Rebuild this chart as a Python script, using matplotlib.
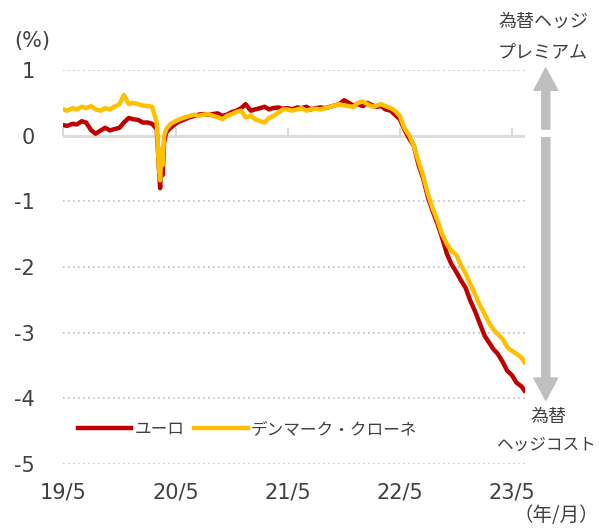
import matplotlib
matplotlib.use('Agg')
import matplotlib.pyplot as plt
import pandas as pd

# Latin text in a wide Verdana-like face, Japanese falls back to Noto CJK
plt.rcParams['font.family'] = ['DejaVu Sans', 'Noto Sans CJK JP']
JP = ['Noto Sans CJK JP', 'DejaVu Sans']

# semi-monthly dates, extra points around the March 2020 shock
dates = [
    '2019-05-01', '2019-05-15', '2019-06-01', '2019-06-15', '2019-07-01', '2019-07-15',
    '2019-08-01', '2019-08-15', '2019-09-01', '2019-09-15', '2019-10-01', '2019-10-15',
    '2019-11-01', '2019-11-15', '2019-12-01', '2019-12-15',
    '2020-01-01', '2020-01-15', '2020-02-01', '2020-02-15', '2020-03-01', '2020-03-08',
    '2020-03-12', '2020-03-16', '2020-03-20', '2020-03-25', '2020-04-01', '2020-04-15',
    '2020-05-01', '2020-05-15', '2020-06-01', '2020-06-15', '2020-07-01', '2020-07-15',
    '2020-08-01', '2020-08-15', '2020-09-01', '2020-09-15', '2020-10-01', '2020-10-15',
    '2020-11-01', '2020-11-15', '2020-12-01', '2020-12-15',
    '2021-01-01', '2021-01-15', '2021-02-01', '2021-02-15', '2021-03-01', '2021-03-15',
    '2021-04-01', '2021-04-15', '2021-05-01', '2021-05-15', '2021-06-01', '2021-06-15',
    '2021-07-01', '2021-07-15', '2021-08-01', '2021-08-15', '2021-09-01', '2021-09-15',
    '2021-10-01', '2021-10-15', '2021-11-01', '2021-11-15', '2021-12-01', '2021-12-15',
    '2022-01-01', '2022-01-15', '2022-02-01', '2022-02-15', '2022-03-01', '2022-03-15',
    '2022-04-01', '2022-04-15', '2022-05-01', '2022-05-15', '2022-06-01', '2022-06-15',
    '2022-07-01', '2022-07-15', '2022-08-01', '2022-08-15', '2022-09-01', '2022-09-15',
    '2022-10-01', '2022-10-15', '2022-11-01', '2022-11-15', '2022-12-01', '2022-12-15',
    '2023-01-01', '2023-01-15', '2023-02-01', '2023-02-15', '2023-03-01', '2023-03-15',
    '2023-04-01', '2023-04-15', '2023-05-01', '2023-05-15', '2023-06-01', '2023-06-10',
]

euro = [
    0.16, 0.15, 0.18, 0.17, 0.22, 0.20, 0.08, 0.03, 0.08, 0.12, 0.08, 0.10, 0.12, 0.20, 0.27, 0.25,
    0.24, 0.20, 0.20, 0.18, 0.10, -0.50, -0.80, -0.30, -0.60, -0.10, 0.05, 0.12, 0.18, 0.22,
    0.25, 0.28, 0.30, 0.32, 0.33, 0.32, 0.33, 0.34, 0.30, 0.32, 0.36, 0.38, 0.42, 0.48,
    0.38, 0.40, 0.42, 0.44, 0.40, 0.42, 0.43, 0.41, 0.42, 0.40, 0.43, 0.42,
    0.44, 0.40, 0.42, 0.43, 0.42, 0.44, 0.46, 0.48, 0.54, 0.50, 0.46, 0.48,
    0.45, 0.50, 0.46, 0.44, 0.45, 0.40, 0.38, 0.32, 0.25, 0.10, -0.05, -0.15,
    -0.45, -0.64, -0.95, -1.14, -1.35, -1.55, -1.80, -1.95, -2.08, -2.20, -2.32, -2.50,
    -2.68, -2.85, -3.05, -3.15, -3.25, -3.32, -3.45, -3.58, -3.65, -3.76, -3.82, -3.88,
]

dkk = [
    0.40, 0.38, 0.42, 0.40, 0.44, 0.42, 0.45, 0.40, 0.38, 0.42, 0.40, 0.44, 0.48, 0.62, 0.48, 0.50,
    0.48, 0.46, 0.45, 0.44, 0.20, -0.50, -0.68, -0.20, -0.45, 0.00, 0.10, 0.18, 0.22, 0.25,
    0.28, 0.30, 0.32, 0.30, 0.32, 0.33, 0.30, 0.28, 0.25, 0.30, 0.33, 0.36, 0.38, 0.28,
    0.30, 0.25, 0.22, 0.20, 0.27, 0.30, 0.35, 0.40, 0.40, 0.38, 0.40, 0.42,
    0.38, 0.40, 0.41, 0.40, 0.42, 0.44, 0.46, 0.48, 0.46, 0.45, 0.44, 0.50,
    0.52, 0.48, 0.44, 0.46, 0.48, 0.45, 0.42, 0.38, 0.30, 0.12, 0.00, -0.15,
    -0.40, -0.60, -0.90, -1.10, -1.30, -1.50, -1.65, -1.75, -1.82, -1.97, -2.10, -2.25,
    -2.42, -2.57, -2.72, -2.85, -2.95, -3.02, -3.10, -3.22, -3.28, -3.32, -3.38, -3.45,
]

tick_dates = ['2019-05-01', '2020-05-01', '2021-05-01', '2022-05-01', '2023-05-01']
tick_labels = ['19/5', '20/5', '21/5', '22/5', '23/5']
y_ticks = [1, 0, -1, -2, -3, -4, -5]
y_labels = ['1', '0', '-1', '-2', '-3', '-4', '-5']

TXT = '#404040'
x = pd.to_datetime(dates)

fig = plt.figure(figsize=(5.99, 5.28), dpi=100)
ax = fig.add_axes([63 / 599, 1 - 464 / 528, 462 / 599, 394 / 528])

for v in [1, -1, -2, -3, -4, -5]:
    ax.axhline(v, color='#BFBFBF', lw=1.2, ls=(0, (1, 2)), zorder=1)
ax.axhline(0, color='#D9D9D9', lw=2, zorder=1)

ax.plot(x, euro, color='#C00000', lw=3.2, label='ユーロ', zorder=3)
ax.plot(x, dkk, color='#FFC000', lw=3.2, label='デンマーク・クローネ', zorder=4)

ax.set_ylim(-5, 1)
ax.set_xlim(pd.Timestamp('2019-05-01'), pd.Timestamp('2023-06-12'))
ax.set_yticks(y_ticks)
ax.set_yticklabels(y_labels)
ax.set_xticks(pd.to_datetime(tick_dates))
ax.set_xticklabels(tick_labels)
ax.tick_params(axis='both', length=0, labelsize=15, colors=TXT)
ax.tick_params(axis='y', pad=20)
ax.tick_params(axis='x', pad=13)
for s in ax.spines.values():
    s.set_visible(False)

# tick marks sitting on the zero line
sec = ax.secondary_xaxis(5 / 6)
sec.set_xticks(pd.to_datetime(tick_dates))
sec.tick_params(direction='out', length=6, width=1.5, colors='#D9D9D9', labelsize=0)
sec.set_xticklabels([])
sec.spines['top'].set_visible(False)

# arrows on the right side
arr = dict(width=5.8, headwidth=17, headlength=16, color='#BFBFBF', shrink=0)
ax.annotate('', xy=(1.045, 1.03), xytext=(1.045, 0.1),
            xycoords=('axes fraction', 'data'), arrowprops=arr, annotation_clip=False)
ax.annotate('', xy=(1.045, -4.03), xytext=(1.045, -0.03),
            xycoords=('axes fraction', 'data'), arrowprops=arr, annotation_clip=False)

def ftext(px, py, s, size=13, fam=JP):
    fig.text(px / 599, 1 - py / 528, s, ha='center', va='center',
             fontsize=size, color=TXT, family=fam)

ftext(543, 22, '為替ヘッジ')
ftext(543, 52, 'プレミアム')
ftext(548, 417, '為替')
ftext(547, 445, 'ヘッジコスト', size=12)
ftext(32, 41, '(%)', size=15, fam=['DejaVu Sans'])
ftext(556, 516, '（年/月）', size=14)

ax.legend(loc='center left', bbox_to_anchor=(0.032, 0.088), ncol=2, frameon=False,
          borderpad=0, borderaxespad=0, handlelength=3.2, handletextpad=0.2,
          columnspacing=0.6, prop={'family': JP, 'size': 12}, labelcolor=TXT)

fig.savefig('out.png', dpi=100)
